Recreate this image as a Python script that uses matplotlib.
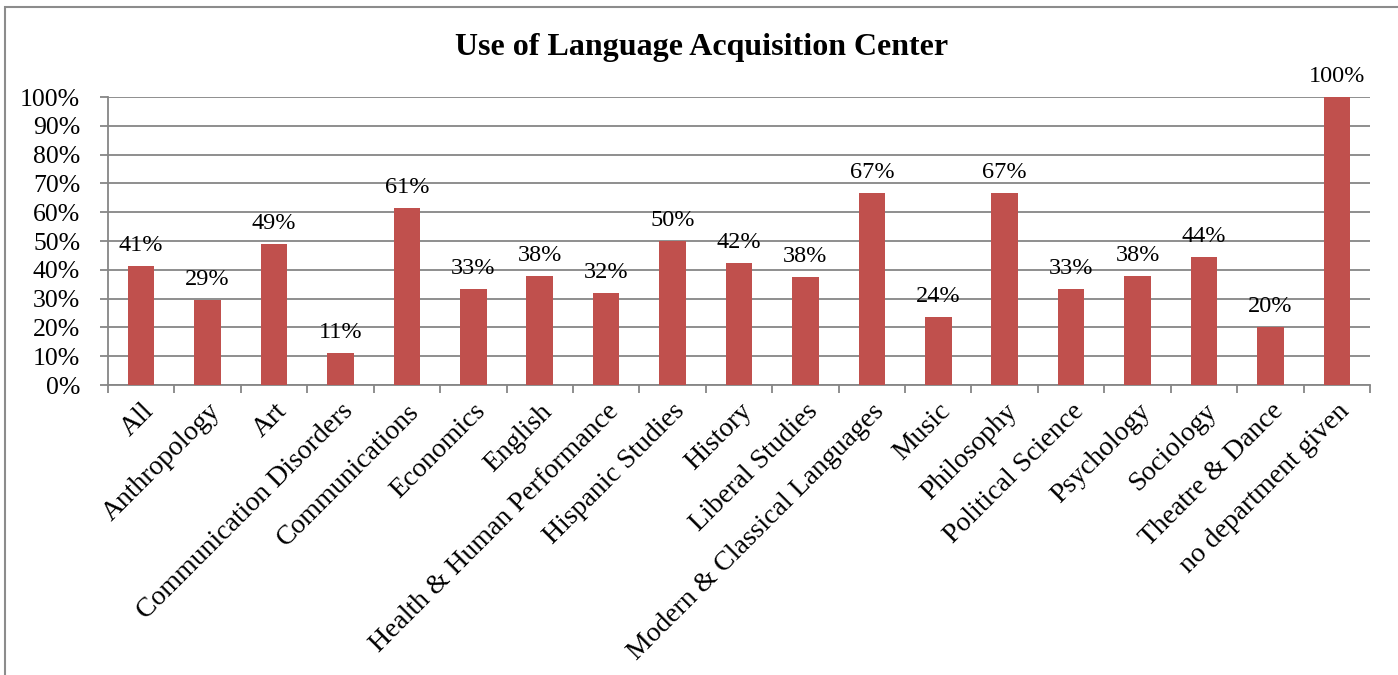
import matplotlib
matplotlib.use('Agg')
import matplotlib.pyplot as plt
from matplotlib.patches import Rectangle

plt.rcParams['font.family'] = ['Liberation Serif', 'DejaVu Serif']

departments = ['All', 'Anthropology', 'Art', 'Communication Disorders', 'Communications',
               'Economics', 'English', 'Health & Human Performance', 'Hispanic Studies',
               'History', 'Liberal Studies', 'Modern & Classical Languages', 'Music',
               'Philosophy', 'Political Science', 'Psychology', 'Sociology',
               'Theatre & Dance', 'no department given']
usage = [41.3, 29.4, 48.8, 11.1, 61.4, 33.3, 37.8, 31.8, 50.0, 42.3, 37.5, 66.7, 23.5,
         66.7, 33.3, 37.9, 44.4, 20.0, 100.0]
y_ticks = [0, 10, 20, 30, 40, 50, 60, 70, 80, 90, 100]

bar_color = '#c0504d'
grid_color = '#868686'

fig = plt.figure(figsize=(13.98, 6.75), dpi=100)

# outer frame (open at bottom and right, as in the cropped source)
fig.add_artist(Rectangle((5 / 1398, -0.1), 1.2, 1.1 - 7 / 675, transform=fig.transFigure,
                         fill=False, edgecolor='#8c8c8c', linewidth=1.5))

ax = fig.add_axes([108 / 1398, 290 / 675, 1262 / 1398, 288 / 675])

x = list(range(len(departments)))
ax.bar(x, usage, width=0.4, color=bar_color, zorder=3)

for xi, v in zip(x, usage):
    ax.text(xi, v + 3.5, f'{v:.0f}%', ha='center', va='bottom', fontsize=17.5)

ax.set_xlim(-0.5, len(departments) - 0.5)
ax.set_ylim(0, 100)
ax.set_yticks(y_ticks)
ax.set_yticklabels([f'{t}%' for t in y_ticks], fontsize=18.5)
ax.yaxis.grid(True, color=grid_color, linewidth=1.3, zorder=0)

# x ticks sit between categories, labels at category centres
ax.set_xticks([i - 0.5 for i in range(len(departments) + 1)])
ax.set_xticklabels([])
ax.set_xticks(x, minor=True)
ax.set_xticklabels(departments, minor=True, rotation=45, ha='right', va='top',
                   rotation_mode='anchor', fontsize=20)
ax.tick_params(axis='x', which='minor', length=0, pad=10)
ax.tick_params(axis='x', which='major', length=6, color=grid_color, width=1.3)
ax.tick_params(axis='y', length=6, color=grid_color, width=1.3, pad=14)

for side in ['top', 'right']:
    ax.spines[side].set_visible(False)
for side in ['left', 'bottom']:
    ax.spines[side].set_color(grid_color)
    ax.spines[side].set_linewidth(1.3)

fig.text(702 / 1398, 1 - 48 / 675, 'Use of Language Acquisition Center',
         ha='center', va='center', fontsize=23, fontweight='bold')

fig.savefig('out.png', dpi=100)
